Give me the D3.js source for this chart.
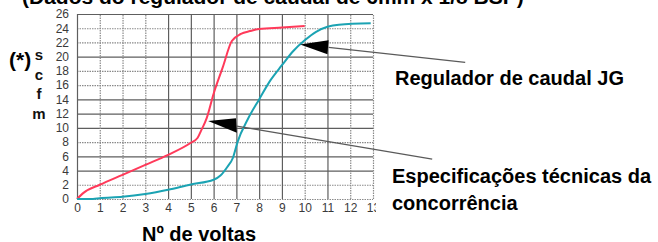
<!DOCTYPE html>
<html><head><meta charset="utf-8">
<script src="https://cdn.jsdelivr.net/npm/d3@7"></script>
<style>
body{margin:0;background:#fff}
svg{display:block}
text{font-family:"Liberation Sans",Arial,Helvetica,sans-serif}
</style>
</head><body>
<svg id="c" width="658" height="242"></svg>
<script>
// ---- data ----
const xTicks = [0,1,2,3,4,5,6,7,8,9,10,11,12,13];
const yTicks = [0,2,4,6,8,10,12,14,16,18,20,22,24,26];
// Especificações técnicas da concorrência (red)
const compX = [0,0.3,1,2,3,4,5,5.3,5.45,5.7,6,6.4,6.8,7.2,7.6,8,9,10];
const compY = [0,0.9,2,3.4,4.8,6.2,7.9,8.6,9.6,11.4,14.8,18.5,22.2,23.2,23.6,23.9,24.1,24.3];
// Regulador de caudal JG (teal)
const jgX = [0,0.7,1,2,3,4,5,6,6.3,6.6,6.85,7.05,7.5,8,8.5,9,9.5,10,10.5,11,11.5,12.9];
const jgY = [0,0,0.1,0.3,0.7,1.3,2.05,2.7,3.3,4.5,5.8,8,11.2,14,16.7,18.8,20.8,22.3,23.5,24.2,24.5,24.7];
const titleText = "(Dados do regulador de caudal de 6mm x 1/8 BSP)";
const xAxisTitle = "Nº de voltas";
const yUnitPrefix = "(*)";
const yUnitLetters = ["s","c","f","m"];
const labelJG = ["Regulador de caudal JG"];
const labelComp = ["Especificações técnicas da","concorrência"];
// annotation arrows in data units: tip, base top, base bottom, line start, line end
const arrowJG = [[9.8,21.7],[11.05,22.3],[11.0,20.35],[11.05,21.3],[17.05,19.2]];
const arrowComp = [[5.76,10.96],[6.98,11.35],[7.02,9.3],[7.02,10.25],[15.6,5.6]];

// ---- chart ----
const svg = d3.select("#c");
const x = d3.scaleLinear().domain([0,13]).range([77,373]);
const y = d3.scaleLinear().domain([0,26]).range([199,14]);

const dottedH = new Set([0,2,8,16,18,22,24]);
const dottedV = new Set([1,2,3,10,12,13]);

const grid = svg.append("g");
grid.selectAll("line.h").data(yTicks).join("line")
  .attr("x1", x(0)).attr("x2", x(13))
  .attr("y1", d=>y(d)+0.5).attr("y2", d=>y(d)+0.5)
  .attr("stroke", d=>dottedH.has(d)?"#8a8a8a":"#5e5e5e")
  .attr("stroke-width", 1.2)
  .attr("stroke-dasharray", d=>dottedH.has(d)?"1.5,1":null);
grid.selectAll("line.v").data(xTicks).join("line")
  .attr("y1", y(0)).attr("y2", y(26))
  .attr("x1", d=>x(d)+0.5).attr("x2", d=>x(d)+0.5)
  .attr("stroke", d=>dottedV.has(d)?"#8a8a8a":"#5e5e5e")
  .attr("stroke-width", 1.2)
  .attr("stroke-dasharray", d=>dottedV.has(d)?"1.5,1":null);

// axes labels
const yAxis = svg.append("g").attr("transform","translate(70,0)")
  .call(d3.axisLeft(y).tickValues(yTicks).tickSize(0).tickPadding(1));
yAxis.select(".domain").remove();
yAxis.selectAll("text").attr("font-size",12).attr("fill","#3a3a3a")
  .attr("font-family","'Liberation Sans',Arial,sans-serif");
const xAxis = svg.append("g").attr("transform","translate(0,201)")
  .call(d3.axisBottom(x).tickValues(xTicks).tickSize(0).tickPadding(2));
xAxis.select(".domain").remove();
xAxis.selectAll("text").attr("font-size",12).attr("fill","#3a3a3a")
  .attr("font-family","'Liberation Sans',Arial,sans-serif");

// curves
const line = d3.line().x(d=>x(d[0])).y(d=>y(d[1])).curve(d3.curveMonotoneX);
svg.append("path").datum(compX.map((v,i)=>[v,compY[i]]))
  .attr("d", line).attr("fill","none").attr("stroke","#ff3a5a").attr("stroke-width",2);
svg.append("path").datum(jgX.map((v,i)=>[v,jgY[i]]))
  .attr("d", line).attr("fill","none").attr("stroke","#1ba3b3").attr("stroke-width",2);

// white cover on right side (label area)
svg.append("rect").attr("x",376).attr("y",160).attr("width",282).attr("height",82).attr("fill","#fff");

// arrows
function drawArrow(a){
  const p = a.map(d=>[x(d[0]),y(d[1])]);
  svg.append("line").attr("x1",p[3][0]).attr("y1",p[3][1]).attr("x2",p[4][0]).attr("y2",p[4][1])
    .attr("stroke","#5a5a5a").attr("stroke-width",1.2);
  svg.append("path").attr("d","M"+p[0]+"L"+p[1]+"L"+p[2]+"Z").attr("fill","#000");
}
drawArrow(arrowJG);
drawArrow(arrowComp);

// texts
svg.append("text").attr("x",22).attr("y",4).attr("font-size",21).attr("font-weight","bold")
  .attr("fill","#000").text(titleText);
svg.append("text").attr("x",142).attr("y",241).attr("font-size",20).attr("font-weight","bold")
  .attr("fill","#000").text(xAxisTitle);
svg.append("text").attr("x",9).attr("y",67).attr("font-size",21).attr("font-weight","bold")
  .attr("fill","#000").text(yUnitPrefix);
svg.selectAll("text.u").data(yUnitLetters).join("text")
  .attr("x",39).attr("y",(d,i)=>60+i*19.5).attr("text-anchor","middle")
  .attr("font-size",15).attr("font-weight","bold").attr("fill","#111").text(d=>d);
svg.selectAll("text.jg").data(labelJG).join("text")
  .attr("x",395).attr("y",(d,i)=>85+i*27).attr("font-size",20).attr("font-weight","bold")
  .attr("fill","#000").text(d=>d);
svg.selectAll("text.cp").data(labelComp).join("text")
  .attr("x",392).attr("y",(d,i)=>183+i*27).attr("font-size",20).attr("font-weight","bold")
  .attr("fill","#000").text(d=>d);
</script>
</body></html>
